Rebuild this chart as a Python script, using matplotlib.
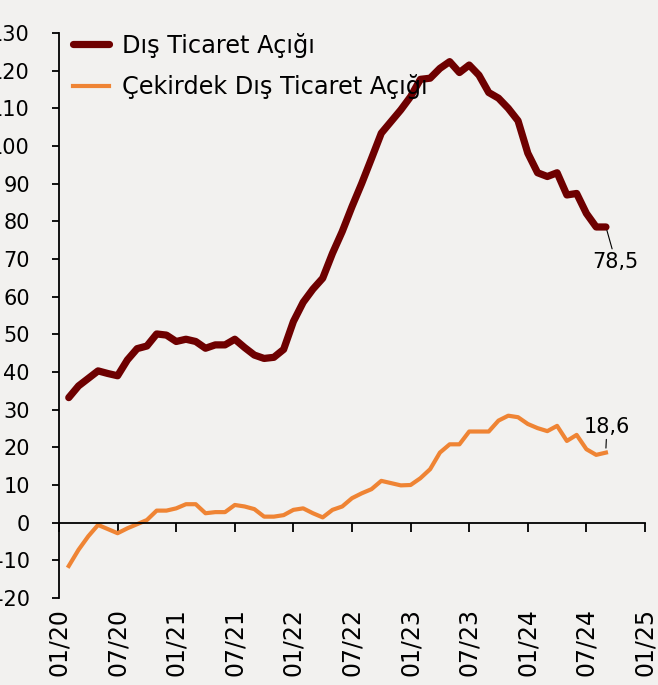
import numpy as np
import matplotlib
matplotlib.use("Agg")
import matplotlib.pyplot as plt

# aylik veri, 01/2020'den itibaren ay sayisi (1 = 02/2020)
months = np.arange(1, 57)

dis_ticaret = [33.2, 36.3, 38.3, 40.3, 39.6, 39.0, 43.2, 46.2, 46.9, 50.1,
               49.8, 48.1, 48.7, 48.1, 46.3, 47.2, 47.2, 48.7, 46.5, 44.5,
               43.6, 43.9, 46.0, 53.4, 58.5, 62.0, 64.9, 71.5, 77.3, 83.9,
               90.1, 96.7, 103.4, 106.5, 109.6, 113.1, 117.7, 118.0, 120.6, 122.4,
               119.5, 121.5, 118.8, 114.2, 112.7, 110.0, 106.7, 98.1, 92.9, 91.9,
               92.9, 87.0, 87.4, 82.1, 78.5, 78.5]

cekirdek = [-11.5, -7.2, -3.6, -0.6, -1.7, -2.8, -1.5, -0.4, 0.7, 3.2,
            3.2, 3.8, 4.9, 4.9, 2.5, 2.8, 2.8, 4.7, 4.3, 3.6,
            1.6, 1.6, 2.0, 3.4, 3.8, 2.5, 1.4, 3.4, 4.3, 6.5,
            7.8, 8.9, 11.1, 10.5, 9.9, 10.0, 11.8, 14.2, 18.6, 20.8,
            20.8, 24.2, 24.2, 24.2, 27.1, 28.4, 28.0, 26.2, 25.1, 24.3,
            25.7, 21.7, 23.3, 19.5, 18.0, 18.6]

xtick_pos = np.arange(0, 61, 6)
xtick_labels = ["01/20", "07/20", "01/21", "07/21", "01/22", "07/22",
                "01/23", "07/23", "01/24", "07/24", "01/25"]
yticks = np.arange(-20, 131, 10)

bg = "#F2F1EF"
koyu = "#6E0000"
turuncu = "#EF8434"

plt.rcParams["font.family"] = ["DejaVu Sans"]
plt.rcParams["axes.unicode_minus"] = False

fig = plt.figure(figsize=(6.58, 6.85), dpi=100, facecolor=bg)
ax = fig.add_axes([59 / 658, 1 - 598 / 685, (645 - 59) / 658, (598 - 33) / 685])
ax.set_facecolor(bg)

ax.plot(months, dis_ticaret, color=koyu, lw=5.2, solid_capstyle="round",
        solid_joinstyle="round", label="Dış Ticaret Açığı")
ax.plot(months, cekirdek, color=turuncu, lw=3.0, solid_joinstyle="round",
        label="Çekirdek Dış Ticaret Açığı")

ax.set_xlim(0, 60)
ax.set_ylim(-20, 130)
ax.set_yticks(yticks)
ax.set_yticklabels([str(v) for v in yticks])
ax.set_xticks(xtick_pos)
ax.set_xticklabels(xtick_labels)

for s in ["top", "right"]:
    ax.spines[s].set_visible(False)
ax.spines["bottom"].set_position(("data", 0))
ax.spines["bottom"].set_linewidth(1.3)
ax.spines["left"].set_linewidth(1.3)

ax.tick_params(axis="y", direction="out", length=5, width=1.3, pad=16,
               labelsize=15)
ax.tick_params(axis="x", direction="out", length=6.5, width=1.3, pad=55,
               labelsize=17, labelrotation=90)

# son deger etiketleri
ax.annotate("78,5", xy=(56.1, 77.6), xytext=(57.0, 69.3),
            ha="center", va="center", fontsize=15,
            arrowprops=dict(arrowstyle="-", color="black", lw=0.8,
                            shrinkA=0, shrinkB=0))
ax.annotate("18,6", xy=(56.0, 19.8), xytext=(56.1, 25.5),
            ha="center", va="center", fontsize=15,
            arrowprops=dict(arrowstyle="-", color="black", lw=0.8,
                            shrinkA=0, shrinkB=0))

ax.legend(loc="upper left", bbox_to_anchor=(-0.005, 1.03), frameon=False,
          fontsize=17.3, handlelength=1.5, handletextpad=0.55,
          labelspacing=0.68, borderaxespad=0.3)

fig.savefig("out.png", dpi=100, facecolor=bg)
